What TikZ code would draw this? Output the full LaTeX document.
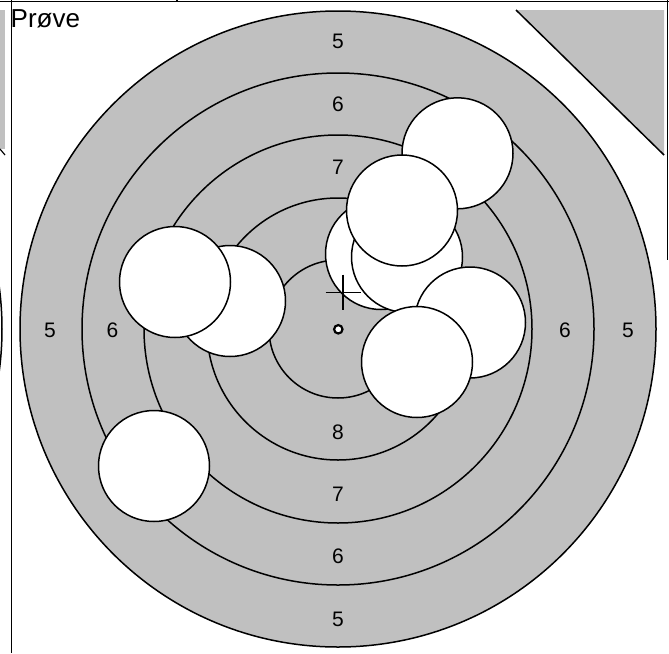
\documentclass[tikz,border=0pt]{standalone}
\usepackage{fontspec}
\setmainfont{Liberation Sans}
\definecolor{ringgray}{HTML}{C0C0C0}
\tikzset{
  ring/.style={draw=black, fill=ringgray, line width=1.5pt},
  shot/.style={draw=black, fill=white, line width=1.5pt},
  score/.style={font=\fontsize{21}{25}\selectfont, inner sep=0pt},
  edge/.style={line width=1.5pt},
}
\begin{document}
\begin{tikzpicture}[x=1pt,y=-1pt]%1px=1pt
\useasboundingbox (0,0) rectangle (669,653);
\coordinate (c) at (338,329);%中心
\begin{scope}
\clip (0,0) rectangle (669,653);
\draw[edge] (-316,329) circle[radius=318pt];%隣の的
\end{scope}
\fill[ringgray] (0,10) rectangle (5.3,149);
\draw[line width=1.2pt] (0,149)--(5,155);
\fill[ringgray] (516,10)--(664,10)--(664,155)--cycle;
\draw[line width=1.5pt] (516,10)--(664,155);
\draw[edge] (0,1.7)--(669,1.7);%枠
\draw[edge] (11.7,0)--(11.7,653);
\draw[edge] (667.5,0)--(667.5,260);
\draw[line width=1.5pt] (177,0)--(177,2);
\node[anchor=base west, inner sep=0pt, font=\fontsize{26}{30}\selectfont] (title) at (10.5,27.3) {Prøve};
\foreach \r in {318,256,194,131,69}
  \draw[ring] (c) circle[radius=\r pt];%リング
\node[score] (top5) at (338,41.5) {5};
\node[score] (top6) at (338,104) {6};
\node[score] (top7) at (338,167) {7};
\node[score] (bot8) at (338,432) {8};
\node[score] (bot7) at (338,494) {7};
\node[score] (bot6) at (338,556) {6};
\node[score] (bot5) at (338,619) {5};
\node[score] (left5) at (50,330) {5};
\node[score] (left6) at (112.5,330) {6};
\node[score] (right6) at (565,330) {6};
\node[score] (right5) at (628,330) {5};
\foreach \p in {(230,301),(175,282),(154,466),(457.5,153.3),(381,254),(407,257),(402,210.5),(470,322.5),(417,362)}
  \draw[shot] \p circle[radius=55.5pt];%弾痕
\draw[line width=1.2pt] (325.5,292.3)--(361,292.3);%照準
\draw[line width=1.2pt] (343,274.5)--(343,309.5);
\draw[line width=2.2pt, fill=white] (338.3,329.3) circle[radius=4.2pt];
\end{tikzpicture}
\end{document}
